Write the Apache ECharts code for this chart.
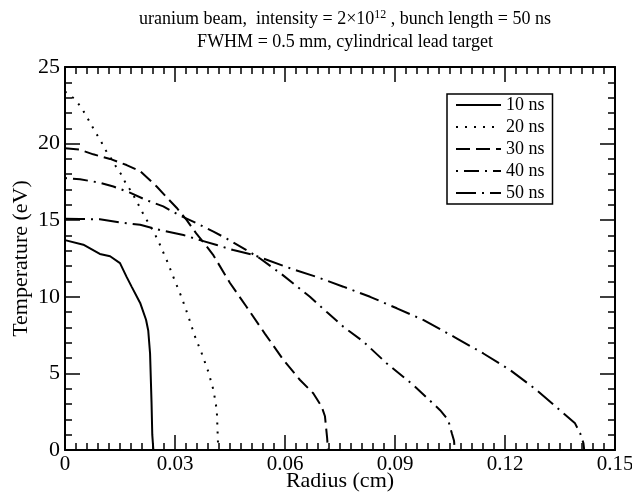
<!DOCTYPE html>
<html>
<head>
<meta charset="utf-8">
<script src="https://cdn.jsdelivr.net/npm/echarts@6/dist/echarts.min.js"></script>
<style>html,body{margin:0;padding:0;background:#fff;}#c{width:632px;height:493px;}</style>
</head>
<body>
<div id="c"></div>
<script>
const seriesNames = ['10 ns', '20 ns', '30 ns', '40 ns', '50 ns'];
const xTicks = [0, 0.03, 0.06, 0.09, 0.12, 0.15];
const yTicks = [0, 5, 10, 15, 20, 25];

const r10 = [0, 0.005, 0.0095, 0.0123, 0.015, 0.0168, 0.0182, 0.0205, 0.0221, 0.0227, 0.0232, 0.0236, 0.0238, 0.0241];
const t10 = [13.7, 13.4, 12.8, 12.65, 12.2, 11.3, 10.65, 9.6, 8.5, 7.8, 6.3, 3.1, 1.0, 0];

const r20 = [0, 0.0027, 0.0043, 0.0056, 0.007, 0.0084, 0.0097, 0.011, 0.0125, 0.0139, 0.0153, 0.0166, 0.018, 0.0194, 0.0205, 0.0218, 0.0232, 0.0245, 0.0257, 0.0279, 0.0298, 0.0318, 0.0336, 0.0353, 0.0373, 0.0391, 0.0405, 0.0414, 0.0416, 0.0418];
const t20 = [23.4, 22.9, 22.4, 21.9, 21.3, 20.7, 20.2, 19.6, 19.05, 18.5, 18.0, 17.4, 16.9, 16.3, 15.8, 15.2, 14.65, 14.1, 13.5, 12.3, 11.14, 9.97, 8.75, 7.5, 6.3, 5.1, 3.9, 2.6, 1.3, 0];

const r30 = [0, 0.0041, 0.0077, 0.0123, 0.0168, 0.0205, 0.0223, 0.025, 0.0277, 0.0305, 0.0332, 0.0359, 0.0386, 0.0405, 0.045, 0.0495, 0.0545, 0.0595, 0.0641, 0.0677, 0.07, 0.0709, 0.0715, 0.0717];
const t30 = [19.7, 19.6, 19.3, 19.0, 18.6, 18.2, 17.8, 17.2, 16.5, 15.8, 15.0, 14.1, 13.3, 12.7, 10.9, 9.35, 7.6, 5.9, 4.57, 3.7, 2.83, 2.2, 0.76, 0];

const r40 = [0, 0.0041, 0.0095, 0.0132, 0.0177, 0.0223, 0.0268, 0.0314, 0.0359, 0.0405, 0.0441, 0.0495, 0.0532, 0.0595, 0.0668, 0.0714, 0.0759, 0.0814, 0.0877, 0.095, 0.1023, 0.1045, 0.1055, 0.1061, 0.1063];
const t40 = [17.75, 17.67, 17.45, 17.2, 16.8, 16.3, 15.9, 15.3, 14.8, 14.25, 13.8, 13.05, 12.5, 11.4, 10.0, 9.0, 8.05, 7.07, 5.66, 4.24, 2.6, 1.96, 1.09, 0.6, 0];

const r50 = [0, 0.0041, 0.0095, 0.015, 0.0205, 0.0259, 0.0323, 0.0368, 0.0414, 0.0459, 0.0514, 0.0541, 0.0614, 0.0686, 0.0759, 0.0832, 0.0905, 0.0977, 0.1068, 0.1141, 0.1214, 0.1286, 0.135, 0.1391, 0.1405, 0.1414, 0.1416];
const t50 = [15.1, 15.08, 15.06, 14.86, 14.7, 14.36, 14.03, 13.7, 13.38, 13.05, 12.73, 12.5, 11.86, 11.3, 10.66, 10.0, 9.25, 8.49, 7.29, 6.3, 5.22, 3.92, 2.6, 1.74, 1.09, 0.44, 0];

const radii = [r10, r20, r30, r40, r50];
const temps = [t10, t20, t30, t40, t50];
const dashes = ['solid', [2, 7], [14, 6], [2, 6, 15, 6], [20, 6, 2, 6]];

const FONT = 'Liberation Serif';
const chart = echarts.init(document.getElementById('c'), null, {renderer: 'canvas'});

function mkX(pos, show) {
  return {
    type: 'value', position: pos, min: xTicks[0], max: xTicks[xTicks.length - 1],
    interval: xTicks[1] - xTicks[0],
    axisLine: {show: true, onZero: false, lineStyle: {color: '#000', width: 2}},
    axisTick: {show: true, inside: true, length: 15, lineStyle: {color: '#000', width: 1.5}},
    minorTick: {show: true, splitNumber: 10, length: 7, lineStyle: {color: '#000', width: 1.5}},
    splitLine: {show: false},
    axisLabel: {show: show, color: '#000', fontFamily: FONT, fontSize: 21, margin: 4,
      formatter: v => v === 0 ? '0' : v.toFixed(2)},
    name: show ? 'Radius (cm)' : '', nameLocation: 'middle', nameGap: 20, nameMoveOverlap: false,
    nameTextStyle: {color: '#000', fontFamily: FONT, fontSize: 22}
  };
}
function mkY(pos, show) {
  return {
    type: 'value', position: pos, min: yTicks[0], max: yTicks[yTicks.length - 1],
    interval: yTicks[1] - yTicks[0],
    axisLine: {show: true, onZero: false, lineStyle: {color: '#000', width: 2}},
    axisTick: {show: true, inside: true, length: 15, lineStyle: {color: '#000', width: 1.5}},
    minorTick: {show: true, splitNumber: 5, length: 7, lineStyle: {color: '#000', width: 1.5}},
    splitLine: {show: false},
    axisLabel: {show: show, color: '#000', fontFamily: FONT, fontSize: 22, margin: 5},
    name: show ? 'Temperature (eV)' : '', nameLocation: 'middle', nameGap: 33, nameMoveOverlap: false,
    nameTextStyle: {color: '#000', fontFamily: FONT, fontSize: 22}
  };
}

const series = seriesNames.map((n, i) => ({
  name: n, type: 'line', xAxisIndex: 0, yAxisIndex: 0,
  data: radii[i].map((x, j) => [x, temps[i][j]]),
  symbol: 'none', smooth: false, animation: false,
  lineStyle: {color: '#000', width: 2, type: dashes[i]},
  itemStyle: {color: '#000'}
}));

chart.setOption({
  animation: false,
  backgroundColor: '#fff',
  title: {
    text: 'uranium beam,  intensity = 2×10{sup|12} , bunch length = 50 ns\nFWHM = 0.5 mm, cylindrical lead target',
    left: 340, top: 3, textAlign: 'center',
    textStyle: {color: '#000', fontFamily: FONT, fontSize: 18, fontWeight: 'normal', lineHeight: 23,
      rich: {sup: {fontSize: 12, fontFamily: FONT, color: '#000', padding: [0, 0, 10, 0]}}}
  },
  grid: {left: 65, right: 17, top: 67, bottom: 43, containLabel: false, outerBoundsMode: 'none'},
  xAxis: [mkX('bottom', true), mkX('top', false)],
  yAxis: [mkY('left', true), mkY('right', false)],
  legend: {
    data: seriesNames, orient: 'vertical', left: 447, top: 94,
    itemWidth: 45, itemHeight: 14, itemGap: 4,
    itemStyle: {opacity: 0, color: 'rgba(0,0,0,0)', borderWidth: 0},
    padding: [2, 8, 2, 8],
    borderColor: '#000', borderWidth: 1.5, backgroundColor: '#fff', borderRadius: 0,
    textStyle: {color: '#000', fontFamily: FONT, fontSize: 18}
  },
  series: series
});
</script>
</body>
</html>
